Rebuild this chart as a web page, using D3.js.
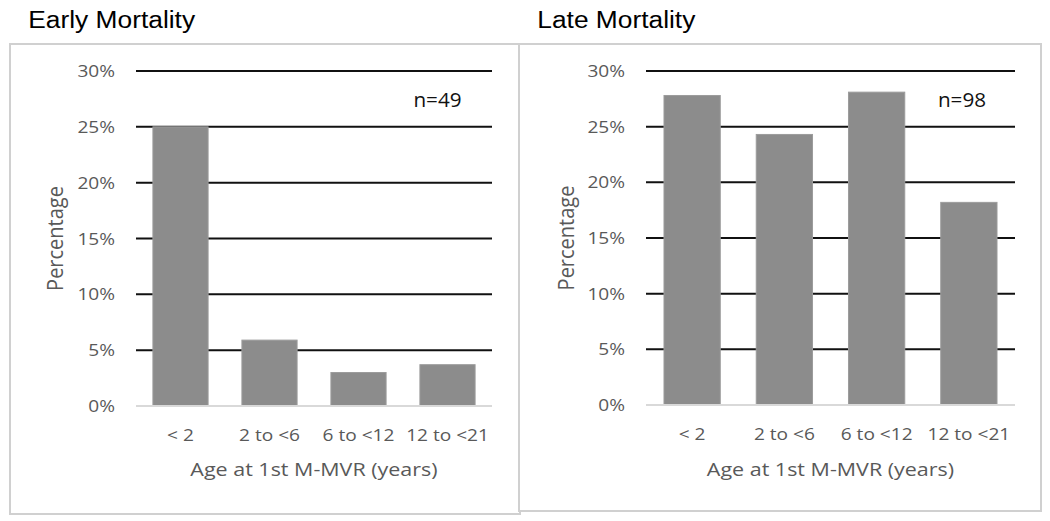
<!DOCTYPE html>
<html><head><meta charset="utf-8">
<script src="https://cdn.jsdelivr.net/npm/d3@7"></script>
<style>body{margin:0;background:#fff}svg{display:block}</style>
</head><body>
<svg id="chart" width="1050" height="521"></svg>
<script>
const categories = ["< 2", "2 to <6", "6 to <12", "12 to <21"];
const earlyValues = [25.0, 5.9, 3.0, 3.7];
const lateValues = [27.8, 24.3, 28.1, 18.2];
const yTicks = [0, 5, 10, 15, 20, 25, 30];
const titles = ["Early Mortality", "Late Mortality"];
const nLabels = ["n=49", "n=98"];
const xTitle = "Age at 1st M-MVR (years)";
const yTitle = "Percentage";

const svg = d3.select("#chart");
const bodyFont = "'Open Sans', Lato, sans-serif";
const S = 1.11; // horizontal stretch of the reference's text

function stext(g, x, y, str, size, opts) {
  opts = opts || {};
  const s = opts.s || S;
  return g.append("text")
    .attr("transform", `translate(${x},${y}) scale(${s},1)` + (opts.rot ? ` rotate(${opts.rot})` : ""))
    .attr("text-anchor", opts.anchor || "start")
    .attr("font-family", opts.font || bodyFont)
    .attr("font-size", size)
    .attr("fill", opts.fill || "#595959")
    .text(str);
}

const panels = [
  {values: earlyValues, title: titles[0], n: nLabels[0], box: [10, 44, 510, 470],
   plot: {x0: 136, x1: 492, y0: 71, y1: 406}, titleX: 28.3, yTitleX: 62.5, nX: 437.5, pad: 0.38},
  {values: lateValues, title: titles[1], n: nLabels[1], box: [519, 44, 522, 467],
   plot: {x0: 646, x1: 1015, y0: 71, y1: 405}, titleX: 537.3, yTitleX: 574, nX: 962, pad: 0.39}
];

panels.forEach(p => {
  const g = svg.append("g");
  g.append("rect").attr("x", p.box[0]).attr("y", p.box[1])
    .attr("width", p.box[2]).attr("height", p.box[3])
    .attr("fill", "#fff").attr("stroke", "#d0d0d0").attr("stroke-width", 2);

  stext(g, p.titleX, 27.7, p.title, 23.3, {font: "'Liberation Sans', Arial, sans-serif", fill: "#000", s: 1.13});

  const x = d3.scaleBand().domain(categories).range([p.plot.x0, p.plot.x1])
    .paddingInner(p.pad).paddingOuter(p.pad / 2);
  const y = d3.scaleLinear().domain([0, 30]).range([p.plot.y1, p.plot.y0]);

  // gridlines
  g.append("g").selectAll("line").data(yTicks.filter(t => t > 0)).join("line")
    .attr("x1", p.plot.x0).attr("x2", p.plot.x1)
    .attr("y1", d => y(d)).attr("y2", d => y(d))
    .attr("stroke", "#111").attr("stroke-width", 2);

  // bars
  g.append("g").selectAll("rect").data(p.values).join("rect")
    .attr("x", (d, i) => x(categories[i])).attr("width", x.bandwidth())
    .attr("y", d => y(d)).attr("height", d => y(0) - y(d))
    .attr("fill", "#8c8c8c").attr("stroke", "#9c9c9c").attr("stroke-width", 1);

  // baseline
  g.append("line").attr("x1", p.plot.x0).attr("x2", p.plot.x1)
    .attr("y1", y(0)).attr("y2", y(0)).attr("stroke", "#d9d9d9").attr("stroke-width", 2);

  // y axis labels
  const yPad = 21;
  const ya = g.append("g").attr("transform", `translate(${p.plot.x0},0)`)
    .call(d3.axisLeft(y).tickValues(yTicks).tickFormat(d => d + "%").tickSize(0).tickPadding(yPad));
  ya.select(".domain").remove();
  ya.selectAll("text").attr("font-family", bodyFont).attr("font-size", 17.2).attr("fill", "#595959")
    .attr("x", -yPad / S).attr("transform", `scale(${S},1)`);

  // x axis labels
  const xa = g.append("g").attr("transform", `translate(0,${p.plot.y1})`)
    .call(d3.axisBottom(x).tickSize(0).tickPadding(23));
  xa.select(".domain").remove();
  xa.selectAll("text").attr("font-family", bodyFont).attr("font-size", 17.2).attr("fill", "#595959")
    .attr("transform", `scale(${S},1)`);

  // axis titles
  stext(g, (p.plot.x0 + p.plot.x1) / 2, 475.5, xTitle, 19, {anchor: "middle", s: 1.13});
  stext(g, p.yTitleX, (p.plot.y0 + p.plot.y1) / 2, yTitle, 20, {anchor: "middle", s: 1.07, rot: -90});

  // n label
  stext(g, p.nX, 107, p.n, 19.5, {anchor: "middle", fill: "#111", s: 1.06});
});
</script>
</body></html>
